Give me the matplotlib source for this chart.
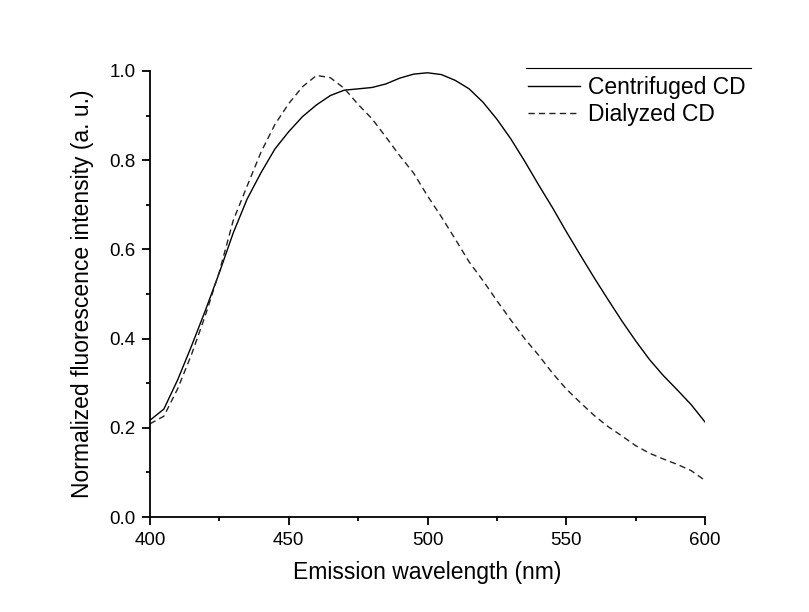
import matplotlib
matplotlib.use("Agg")
import matplotlib.pyplot as plt
from matplotlib.ticker import MultipleLocator, FormatStrFormatter

wavelength = [400, 405, 410, 415, 420, 425, 430, 435, 440, 445,
              450, 455, 460, 465, 470, 475, 480, 485, 490, 495,
              500, 505, 510, 515, 520, 525, 530, 535, 540, 545,
              550, 555, 560, 565, 570, 575, 580, 585, 590, 595, 600]

centrifuged = [0.217, 0.242, 0.308, 0.384, 0.464, 0.548, 0.637, 0.713, 0.772, 0.825,
               0.864, 0.898, 0.924, 0.945, 0.957, 0.960, 0.963, 0.971, 0.984, 0.993,
               0.996, 0.992, 0.979, 0.960, 0.930, 0.892, 0.848, 0.798, 0.745, 0.694,
               0.640, 0.588, 0.537, 0.488, 0.440, 0.395, 0.353, 0.317, 0.285, 0.252, 0.213]

dialyzed = [0.209, 0.226, 0.288, 0.365, 0.453, 0.550, 0.665, 0.742, 0.818, 0.880,
            0.927, 0.965, 0.990, 0.985, 0.961, 0.925, 0.893, 0.852, 0.810, 0.771,
            0.720, 0.673, 0.623, 0.572, 0.530, 0.485, 0.442, 0.400, 0.363, 0.323,
            0.287, 0.257, 0.228, 0.203, 0.182, 0.160, 0.143, 0.130, 0.118, 0.104, 0.082]

series_labels = ["Centrifuged CD", "Dialyzed CD"]
x_label = "Emission wavelength (nm)"
y_label = "Normalized fluorescence intensity (a. u.)"

plt.rcParams['font.family'] = ['Liberation Sans', 'DejaVu Sans']

fig = plt.figure(figsize=(8.09, 6.12), dpi=100)
ax = fig.add_axes([150/809, 1-517/612, 555/809, 446/612])

ax.plot(wavelength, centrifuged, color='black', lw=1.0, label=series_labels[0])
ax.plot(wavelength, dialyzed, color='#222222', lw=1.0, linestyle=(0, (4.5, 3)),
        label=series_labels[1])

ax.set_xlim(400, 600)
ax.set_ylim(0, 1.0)
ax.xaxis.set_major_locator(MultipleLocator(50))
ax.xaxis.set_minor_locator(MultipleLocator(25))
ax.yaxis.set_major_locator(MultipleLocator(0.2))
ax.yaxis.set_minor_locator(MultipleLocator(0.1))
ax.yaxis.set_major_formatter(FormatStrFormatter('%.1f'))

for s in ['top', 'right']:
    ax.spines[s].set_visible(False)
for s in ['left', 'bottom']:
    ax.spines[s].set_linewidth(1.3)

ax.tick_params(which='major', direction='out', length=6, width=1.3, labelsize=13.5, pad=4.5)
ax.tick_params(which='minor', direction='out', length=3, width=1.3)

ax.set_xlabel(x_label, fontsize=16.5, labelpad=9)
ax.set_ylabel(y_label, fontsize=16.5, labelpad=11)

leg = ax.legend(loc='upper left', bbox_to_anchor=(0.665, 1.009), frameon=False,
                fontsize=16.5, handlelength=2.27, handletextpad=0.35, labelspacing=0.18,
                borderaxespad=0)
ax.plot([0.677, 1.083], [1.006, 1.006], transform=ax.transAxes, color='black',
        lw=0.8, clip_on=False)

fig.savefig("out.png", dpi=100, facecolor='white')
